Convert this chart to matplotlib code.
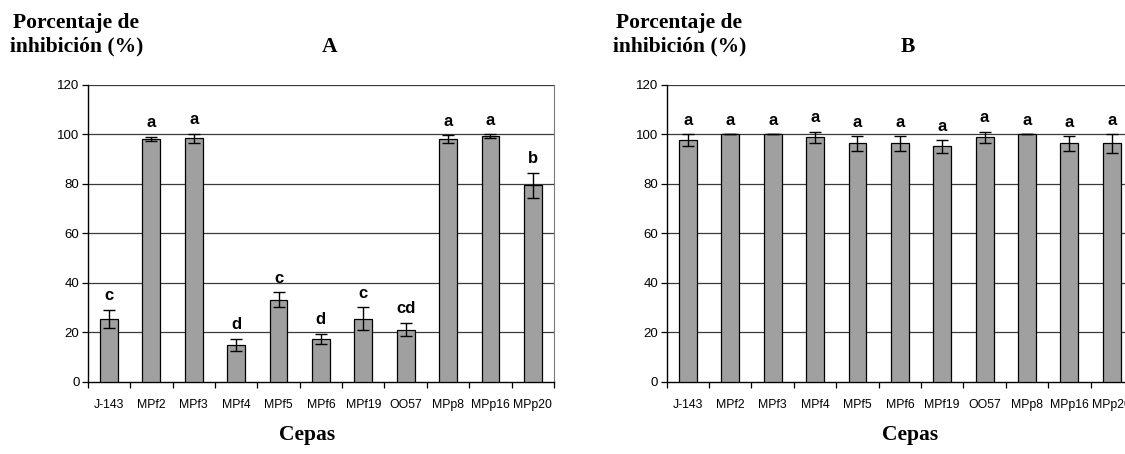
import matplotlib
matplotlib.use("Agg")
import matplotlib.pyplot as plt
import numpy as np

cepas = ["J-143", "MPf2", "MPf3", "MPf4", "MPf5", "MPf6", "MPf19", "OO57", "MPp8", "MPp16", "MPp20"]

vals_a = [25.6, 98.3, 98.5, 15.0, 33.3, 17.4, 25.6, 21.2, 98.2, 99.2, 79.5]
err_a = [3.6, 0.8, 1.8, 2.5, 3.0, 2.1, 4.6, 2.7, 1.5, 0.8, 5.0]
letters_a = ["c", "a", "a", "d", "c", "d", "c", "cd", "a", "a", "b"]

vals_b = [97.7, 100.0, 100.0, 98.8, 96.4, 96.4, 95.2, 98.8, 100.0, 96.4, 96.4]
err_b = [2.4, 0.0, 0.0, 2.3, 3.0, 3.0, 2.5, 2.3, 0.0, 3.0, 3.8]
letters_b = ["a"] * 11

yticks = [0, 20, 40, 60, 80, 100, 120]

fig = plt.figure(figsize=(11.25, 4.54), dpi=100)
sans = ["Liberation Sans", "DejaVu Sans"]
serif = ["Liberation Serif", "DejaVu Serif"]


def panel(rect, vals, errs, letters, tag, tag_x, title_x, cepas_x):
    ax = fig.add_axes(rect)
    x = np.arange(len(cepas))
    ax.bar(x, vals, width=0.42, color="#a0a0a0", edgecolor="black", linewidth=0.9, zorder=3)
    ax.errorbar(x, vals, yerr=errs, fmt="none", ecolor="black", elinewidth=1.0,
                capsize=4, capthick=1.0, zorder=4)
    for xi, v, e, l in zip(x, vals, errs, letters):
        ax.text(xi, v + e + 2.6, l, ha="center", va="bottom", fontsize=12,
                fontweight="bold", family=sans)
    ax.set_xlim(-0.5, len(cepas) - 0.5)
    ax.set_ylim(0, 120)
    ax.set_yticks(yticks)
    ax.set_yticklabels([str(t) for t in yticks], family=sans, fontsize=9.5)
    ax.set_xticks(x)
    ax.set_xticklabels(cepas, family=sans, fontsize=8.8)
    ax.set_xticks(np.arange(len(cepas) + 1) - 0.5, minor=True)
    ax.tick_params(axis="x", which="major", length=0, pad=12)
    ax.tick_params(axis="x", which="minor", length=4, width=0.9, direction="out")
    ax.tick_params(axis="y", length=4, width=0.9, direction="out", pad=2)
    for yv in yticks[1:]:
        ax.axhline(yv, color="#3a3a3a", linewidth=0.9, zorder=1)
    ax.spines["top"].set_visible(False)
    ax.spines["right"].set_color("#7a7a7a")
    ax.spines["left"].set_linewidth(1.0)
    ax.spines["bottom"].set_linewidth(1.0)
    fig.text(title_x, 1 - 28 / 454, "Porcentaje de", fontsize=15.5, fontweight="bold",
             family=serif, ha="left", va="baseline")
    fig.text(title_x - 0.003, 1 - 51 / 454, "inhibición (%)", fontsize=15.5, fontweight="bold",
             family=serif, ha="left", va="baseline")
    fig.text(tag_x, 1 - 52 / 454, tag, fontsize=15.5, fontweight="bold",
             family=serif, ha="center", va="baseline")
    fig.text(cepas_x, 1 - 440 / 454, "Cepas", fontsize=15.5, fontweight="bold",
             family=serif, ha="center", va="baseline")
    return ax


panel([0.078, 0.1586, 0.4145, 0.6542], vals_a, err_a, letters_a, "A",
      330 / 1125, 13 / 1125, 307 / 1125)
panel([0.5926, 0.1586, 0.4145, 0.6542], vals_b, err_b, letters_b, "B",
      908 / 1125, 616 / 1125, 910 / 1125)

fig.savefig("out.png", dpi=100)
